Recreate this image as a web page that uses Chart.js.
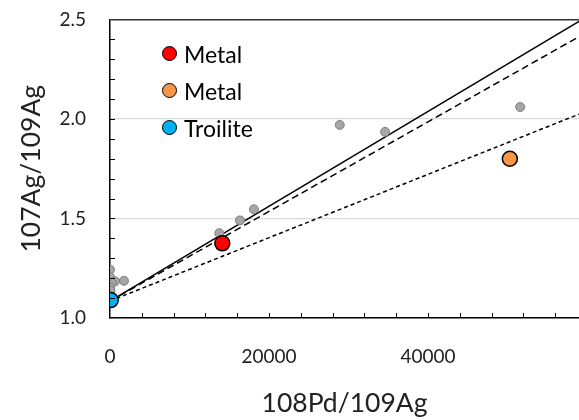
<!DOCTYPE html>
<html>
<head>
<meta charset="utf-8">
<script src="https://cdn.jsdelivr.net/npm/chart.js@4"></script>
<style>
    html, body { margin: 0; padding: 0; background: #fff; }
    #wrap { position: relative; width: 579px; height: 420px; overflow: hidden; }
    #chart { display: block; margin-top: -16px; }
    #legend { position: absolute; left: 162px; top: 35px; font-family: Lato, sans-serif; font-size: 23px; color: #000; }
    .item { display: flex; align-items: center; height: 37px; }
    .dot { width: 15px; height: 15px; border-radius: 50%; border: 1.5px solid #000; box-sizing: border-box; margin-right: 7px; }
</style>
</head>
<body>
<div id="wrap">
    <canvas id="chart" width="579" height="436"></canvas>
    <div id="legend"></div>
</div>
<script>
// grey (unlabelled) measurements
const greyX = [0, 0, 630, 1760, 210, 0, 50, 13750, 16350, 18100, 28900, 34600, 51600];
const greyY = [1.243, 1.205, 1.184, 1.187, 1.176, 1.154, 1.137, 1.426, 1.49, 1.546, 1.97, 1.935, 2.06];

// labelled samples
const seriesNames = ['Metal', 'Metal', 'Troilite'];
const seriesColors = ['#ff0000', '#f79646', '#00b0f0'];
const seriesX = [14130, 50300, 90];
const seriesY = [1.375, 1.80, 1.09];

// reference lines (two end points each)
const lineX = [0, 59000];
const solidY = [1.085, 2.49];
const dashY = [1.085, 2.413];
const dotY = [1.085, 2.024];

// axes
const xMin = 0, xMax = 59000, xMinorStep = 4000;
const xTickValues = [0, 20000, 40000];
const yMin = 1.0, yMax = 2.5, yMinorStep = 0.1;
const yTickValues = [1.0, 1.5, 2.0, 2.5];

const pts = (xs, ys) => xs.map((x, i) => ({ x: x, y: ys[i] }));

const lineStyle = (data, dash) => ({
    data: pts(lineX, data),
    showLine: true,
    borderColor: '#000',
    borderWidth: 1.5,
    borderDash: dash,
    pointRadius: 0,
    order: 3
});

const datasets = [
    lineStyle(solidY, []),
    lineStyle(dashY, [7, 4]),
    lineStyle(dotY, [4, 3]),
    {
        data: pts(greyX, greyY),
        backgroundColor: '#a6a6a6',
        borderColor: '#7f7f7f',
        borderWidth: 1,
        pointRadius: 4.5,
        order: 2
    }
];
seriesNames.forEach((name, i) => {
    datasets.push({
        label: name,
        data: [{ x: seriesX[i], y: seriesY[i] }],
        backgroundColor: seriesColors[i],
        borderColor: '#000',
        borderWidth: 1.5,
        pointRadius: 7.5,
        order: 1
    });
});

// small inward tick marks on both axes
const minorTicks = {
    id: 'minorTicks',
    afterDraw(chart) {
        const ctx = chart.ctx, area = chart.chartArea;
        const xs = chart.scales.x, ys = chart.scales.y;
        ctx.save();
        ctx.strokeStyle = '#000';
        ctx.lineWidth = 1;
        ctx.beginPath();
        for (let v = xMin + xMinorStep; v < xMax; v += xMinorStep) {
            const px = Math.round(xs.getPixelForValue(v)) + 0.5;
            ctx.moveTo(px, area.bottom);
            ctx.lineTo(px, area.bottom - 5);
        }
        for (let v = yMin + yMinorStep; v < yMax - 1e-6; v += yMinorStep) {
            const py = Math.round(ys.getPixelForValue(v)) + 0.5;
            ctx.moveTo(area.left, py);
            ctx.lineTo(area.left + 5, py);
        }
        ctx.stroke();
        ctx.restore();
    }
};

const tickFont = { family: 'Lato', size: 19 };
const titleFont = { family: 'Lato', size: 26.5 };

new Chart(document.getElementById('chart'), {
    type: 'scatter',
    data: { datasets: datasets },
    plugins: [minorTicks],
    options: {
        responsive: false,
        animation: false,
        layout: { autoPadding: false, padding: { left: 0, top: 4, right: 0, bottom: 0 } },
        plugins: { legend: { display: false }, tooltip: { enabled: false } },
        scales: {
            x: {
                type: 'linear', min: xMin, max: xMax,
                afterBuildTicks: axis => { axis.ticks = xTickValues.map(v => ({ value: v })); },
                afterFit: axis => { axis.height = 102; },
                border: { color: '#000', width: 1.5 },
                grid: { drawOnChartArea: false, drawTicks: false },
                ticks: {
                    maxRotation: 0, autoSkip: false, padding: 27,
                    color: '#222', font: tickFont,
                    callback: v => String(v)
                },
                title: { display: true, text: '108Pd/109Ag', color: '#222', font: titleFont, padding: { top: 0, bottom: 1 } }
            },
            y: {
                type: 'linear', min: yMin, max: yMax,
                afterBuildTicks: axis => { axis.ticks = yTickValues.map(v => ({ value: v })); },
                afterFit: axis => { axis.width = 110; },
                border: { color: '#000', width: 1.5 },
                grid: {
                    drawTicks: false,
                    color: ctx => (ctx.tick && ctx.tick.value === yMax) ? '#333' : '#d9d9d9',
                    lineWidth: ctx => (ctx.tick && ctx.tick.value === yMax) ? 1.5 : 1.2
                },
                ticks: {
                    autoSkip: false, padding: 24,
                    color: '#222', font: tickFont,
                    callback: v => v.toFixed(1)
                },
                title: { display: true, text: '107Ag/109Ag', color: '#222', font: titleFont, padding: { top: 15.6, bottom: 0 } }
            }
        }
    }
});

// legend inside the plot
const legend = document.getElementById('legend');
seriesNames.forEach((name, i) => {
    const div = document.createElement('div');
    div.className = 'item';
    div.innerHTML = `<span class="dot" style="background:${seriesColors[i]}"></span><span>${name}</span>`;
    legend.appendChild(div);
});
</script>
</body>
</html>
